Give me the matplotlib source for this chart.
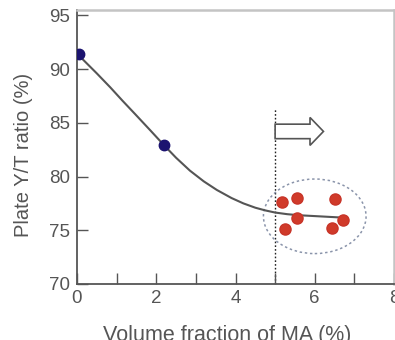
import matplotlib
matplotlib.use("Agg")
import matplotlib.pyplot as plt
from matplotlib.patches import Ellipse, FancyArrow
from matplotlib.ticker import MultipleLocator

plt.rcParams['font.family'] = ['Liberation Sans', 'DejaVu Sans']

# Data
blue_x = [0.06, 2.2]
blue_y = [91.4, 82.9]

red_x = [5.17, 5.56, 6.50, 5.56, 6.71, 5.26, 6.43]
red_y = [77.6, 78.0, 77.9, 76.1, 76.0, 75.1, 75.2]

curve_x = [0.12, 0.5, 0.84, 1.15, 1.47, 1.85, 2.2, 2.5, 2.85, 3.2, 3.53,
           3.9, 4.2, 4.5, 4.75, 5.0, 5.3, 5.6, 6.1, 6.6]
curve_y = [91.0, 89.6, 88.3, 87.05, 85.8, 84.3, 82.9, 81.75, 80.55, 79.55, 78.75,
           78.0, 77.5, 77.1, 76.85, 76.65, 76.5, 76.4, 76.3, 76.2]

xticks_major = [0, 2, 4, 6, 8]
yticks = [70, 75, 80, 85, 90, 95]

text_color = '#555555'

fig = plt.figure(figsize=(3.95, 3.40), dpi=100)
ax = fig.add_axes([77/395, (340-284)/340, (394-77)/395, (284-10)/340])

ax.plot(curve_x, curve_y, color='#555555', lw=1.5, zorder=2,
        solid_joinstyle='round')
ax.plot(blue_x, blue_y, 'o', color='#1c1470', ms=7.5, mec='#1c1470', zorder=3)
ax.plot(red_x, red_y, 'o', color='#d03a2a', ms=8.0, mec='#c83428', zorder=3)

ax.axvline(5.0, ymin=0, ymax=(86.4-70)/25.5, color='#222222', lw=1.0,
           ls=(0, (1.2, 1.5)), zorder=1)

ell = Ellipse((6.0, 76.3), 2.59, 6.94, fill=False, ec='#8a94aa', lw=1.1,
              ls=(0, (1.6, 1.8)), zorder=1)
ax.add_patch(ell)

arr = FancyArrow(5.0, 84.2, 1.22, 0, width=1.35, head_width=2.6,
                 head_length=0.34, length_includes_head=True,
                 fc='white', ec='#555555', lw=1.2, zorder=2)
ax.add_patch(arr)

ax.set_xlim(0, 8)
ax.set_ylim(70, 95.5)
ax.xaxis.set_major_locator(MultipleLocator(2))
ax.xaxis.set_minor_locator(MultipleLocator(1))
ax.set_xticks(xticks_major)
ax.set_yticks(yticks)

ax.tick_params(axis='both', which='both', direction='in', length=8,
               width=1.0, color='#555555', labelcolor=text_color,
               labelsize=13.5, top=False, right=False)
ax.tick_params(axis='y', pad=5)
ax.tick_params(axis='x', pad=4)

for s in ['left', 'bottom']:
    ax.spines[s].set_color('#555555')
    ax.spines[s].set_linewidth(1.3)
for s in ['top', 'right']:
    ax.spines[s].set_color('#c4c4c4')
    ax.spines[s].set_linewidth(1.8)

ax.set_xlabel('Volume fraction of MA (%)', fontsize=15.5, color=text_color)
ax.set_ylabel('Plate Y/T ratio (%)', fontsize=14.5, color=text_color)
ax.xaxis.set_label_coords(0.473, -0.15)
ax.yaxis.set_label_coords(-0.14, 0.47)

fig.savefig('out.png', dpi=100)
